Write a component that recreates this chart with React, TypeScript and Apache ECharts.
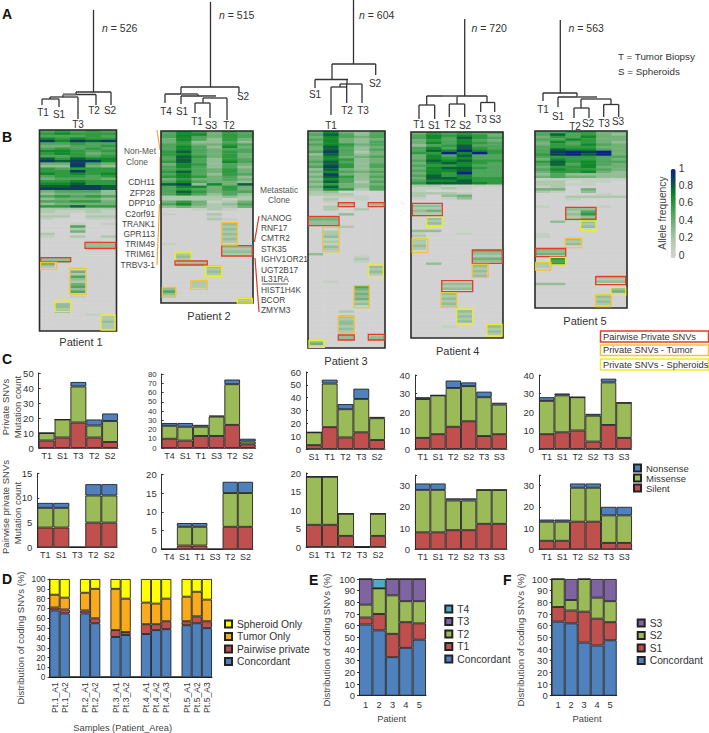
import React, { useEffect, useRef } from "react";
import * as echarts from "echarts";

const FONT = "Liberation Sans";
const SILENT = "#c0504d", MISSENSE = "#9bbb59", NONSENSE = "#4f81bd";
const BLUE = "#4f81bd", RED = "#c0504d", GREEN = "#9bbb59", PURPLE = "#8064a2", TEAL = "#4bacc6", ORANGE = "#f9ab1c", YELLOW = "#ffff00";
const HEAT_COLORS = ["#d2d2d2", "#c4cfc4", "#aec8ae", "#93bd95", "#72b078", "#4fa55c", "#2f9a3f", "#12892a", "#0b5f3c", "#0b3d60", "#0c1f8c"];

// ---- panel C values
const catsP1 = ["T1", "S1", "T3", "T2", "S2"];
const catsP2 = ["T4", "S1", "T1", "S3", "T2", "S2"];
const catsP3 = ["S1", "T1", "T2", "T3", "S2"];
const catsP4 = ["T1", "S1", "T2", "S2", "T3", "S3"];
const catsP5 = ["T1", "S1", "T2", "S2", "T3", "S3"];

const privSilentP1 = [5, 7, 17, 7, 4];
const privMissP1 = [5, 12, 24, 8, 14];
const privNonP1 = [0, 0, 3, 4, 5];
const privSilentP2 = [10, 8, 13, 13, 25, 4];
const privMissP2 = [14, 15, 10, 21, 44, 3];
const privNonP2 = [3, 4, 2, 1, 5, 3];
const privSilentP3 = [3, 17, 9, 13, 7];
const privMissP3 = [10, 34, 22, 26, 17];
const privNonP3 = [0, 3, 4, 8, 1];
const privSilentP4 = [6, 8, 12, 15, 7, 8];
const privMissP4 = [21, 21, 21, 19, 21, 16];
const privNonP4 = [1, 0, 4, 2, 3, 1];
const privSilentP5 = [8, 9, 10, 4, 13, 6];
const privMissP5 = [18, 20, 18, 14, 23, 19];
const privNonP5 = [2, 1, 0, 1, 2, 0];

const pairSilentP1 = [4, 4, 0, 5, 5];
const pairMissP1 = [4, 4, 0, 5.5, 5.5];
const pairNonP1 = [1, 1, 0, 2.3, 2.3];
const pairSilentP2 = [0, 1, 1, 0, 6, 6];
const pairMissP2 = [0, 5, 5, 0, 9, 9];
const pairNonP2 = [0, 1, 1, 0, 3, 3];
const pairSilentP3 = [6, 6, 3, 0, 3];
const pairMissP3 = [13, 13, 6, 0, 6];
const pairNonP3 = [0, 0, 0, 0, 0];
const pairSilentP4 = [8, 8, 9, 9, 12, 12];
const pairMissP4 = [20, 20, 14, 14, 16, 16];
const pairNonP4 = [3, 3, 1, 1, 0, 0];
const pairSilentP5 = [4, 4, 13, 13, 3, 3];
const pairMissP5 = [9, 9, 16, 16, 13, 13];
const pairNonP5 = [1, 1, 2, 2, 4, 4];

// ---- panel D values
const samplesD = ["Pt.1_A1", "Pt.1_A2", "", "Pt.2_A1", "Pt.2_A2", "", "Pt.3_A1", "Pt.3_A2", "", "Pt.4_A1", "Pt.4_A2", "Pt.4_A3", "", "Pt.5_A1", "Pt.5_A2", "Pt.5_A3"];
const concordantD = [68, 65, 0, 65, 55, 0, 41, 43, 0, 44, 48, 49, 0, 53, 55, 50];
const pairwiseD = [3, 4, 0, 3, 5, 0, 7, 3, 0, 10, 6, 8, 0, 4, 7, 7];
const tumorD = [13, 12, 0, 18, 30, 0, 42, 34, 0, 22, 21, 23, 0, 25, 25, 22];
const spheroidD = [16, 19, 0, 14, 10, 0, 10, 20, 0, 24, 25, 20, 0, 18, 13, 21];

// ---- panels E and F values
const patients = ["1", "2", "3", "4", "5"];
const concordantE = [61, 56, 33, 41, 48];
const t1E = [6, 14, 20, 22, 14];
const t2E = [11, 22, 33, 18, 19];
const t3E = [22, 0, 14, 19, 19];
const t4E = [0, 8, 0, 0, 0];
const concordantF = [63.5, 62, 45.5, 43, 47.5];
const s1F = [12.5, 11, 26.5, 23, 15.5];
const s2F = [24, 9, 28, 18, 18];
const s3F = [0, 18, 0, 16, 19];

// ---- panel B rows: one character per sample, tenths of allele frequency (a = 1)
const heatTopP1 = ["56565","67666","55565","76766","97989","55655","44556","56565","77656","67645","55656","86877","98997","44954","33943","65666","66966","76767","56656","45554","66766","77866","88998","99998","45553","34443","56565","34443","55664","34444","66866"];
const heatSparseP1 = ["31:22222","32:21121","33:11011","34:22022","35:10011","37:00101","38:00500","39:00200","40:00400","41:20000","42:10202","44:00010","45:00033","46:00033","47:00022","51:33000","52:33000","53:40000","54:20000","56:00400","57:00200","58:00500","59:00300","60:00200","61:00400","62:00500","63:00300","64:00500","66:00100","69:03000","70:03000","71:02000","72:03000","73:00010","74:00002","75:00002","76:00003","77:00002","78:00002","79:00002"];
const heatTopP2 = ["576465","577465","575465","475364","463353","564465","575374","575455","685465","675464","586464","585365","685375","476354","575353","565464","685464","575365","676453","464454","575443","893748","577464","565464","586455","575353"];
const heatSparseP2 = ["26:222232","27:222212","28:464124","29:574235","30:343224","31:001210","32:000000","33:100200","34:000100","35:000210","37:000030","38:000020","39:000030","40:000020","41:000030","42:000020","43:000030","44:000020","45:100000","46:000033","47:000022","48:000033","49:020022","50:030000","51:020000","52:022000","53:033000","54:000300","55:000200","56:000300","57:000200","60:002000","61:002000","62:002000","63:300000","64:500000","65:300000","66:200000","67:000002","68:000002"];
const heatTopP3 = ["474352","585352","475452","574342","474351","576452","485342","485352","595241","385342","474452","476342","585341","486352","596351","384342","475452","394341","486352","375341","485250","364340","484350","376250"];
const heatSparseP3 = ["24:230000","25:222000","26:011100","27:020100","28:010000","29:00303","30:02000","31:02020","33:00300","34:33000","35:44000","36:33000","37:33000","38:00200","40:02000","41:02000","42:03000","43:01000","44:02000","45:01000","46:03000","47:02000","49:30000","50:00010","51:00020","52:00010","54:00003","55:00002","56:00003","57:00002","60:01000","62:00050","63:00040","64:00030","65:00040","66:00030","67:00040","68:00020","69:00030","72:00200","74:00300","75:00200","76:00300","77:00300","78:00200","79:00300","80:00200","82:00303","83:00303","84:30000","85:40000"];
const heatTopP4 = ["465655","576764","575865","465754","475765","356855","575865","587a76","66a7a6","475855","476755","587866","478765","566755","478865","577855","476a55","586755","488766","577866","688876"];
const heatSparseP4 = ["21:221111","22:112100","23:100000","24:222100","25:203400","26:101300","29:330000","30:220000","31:340000","32:220000","33:110000","34:030000","35:020000","36:030000","39:330000","40:100100","41:200000","43:200000","44:200000","45:300000","46:200000","47:000044","48:000033","49:000022","50:000044","51:000033","52:030000","53:000030","54:000020","55:000030","56:000020","57:000030","60:003300","61:002200","62:003300","64:003000","65:002000","66:003000","67:002000","68:003000","69:002000","71:000300","72:000200","73:000300","74:000200","75:000300","77:001003","78:000002","79:000003","80:000002"];
const heatTopP5 = ["556644","585643","465744","557644","475643","465754","566644","587754","59a9a4","69a8a4","566655","476654","686755","585754","466744","576654","466743","353333","454433"];
const heatSparseP5 = ["19:111111","20:220110","21:221100","22:120000","23:440400","24:210300","25:000010","26:002222","27:001000","30:100010","31:003300","32:002500","33:003600","34:002300","35:002400","36:030300","37:000200","38:000300","41:100000","42:100000","43:003000","44:002000","45:003000","47:440000","48:330000","49:440000","51:060000","52:050000","53:260000","54:200000","58:000033","59:000022","60:000033","61:330000","63:000003","64:000004","66:000030","67:000020","68:000030","69:000020"];

function buildRows(total: number, top: string[], sparse: string[], cols: number): number[][] {
  const rows: number[][] = [];
  for (let r = 0; r < total; r++) rows.push(new Array(cols).fill(0));
  top.forEach((s, r) => {
    for (let c = 0; c < cols; c++) rows[r][c] = parseInt(s[c], 36) / 10;
  });
  sparse.forEach((entry) => {
    const [idx, s] = entry.split(":");
    for (let c = 0; c < cols; c++) rows[+idx][c] = parseInt(s[c] || "0", 36) / 10;
  });
  const cells: number[][] = [];
  rows.forEach((row, r) => row.forEach((v, c) => cells.push([c, r, v])));
  return cells;
}

// layout ----------------------------------------------------------------
const heatPanels = [
  { x: 39.5, y: 130, w: 77, h: 201, rows: 80, cols: 5, top: heatTopP1, sparse: heatSparseP1 },
  { x: 161, y: 131, w: 92, h: 172, rows: 69, cols: 6, top: heatTopP2, sparse: heatSparseP2 },
  { x: 308, y: 131, w: 77, h: 217, rows: 87, cols: 5, top: heatTopP3, sparse: heatSparseP3 },
  { x: 411, y: 132, w: 92, h: 206, rows: 82, cols: 6, top: heatTopP4, sparse: heatSparseP4 },
  { x: 535, y: 131, w: 92, h: 177, rows: 71, cols: 6, top: heatTopP5, sparse: heatSparseP5 },
];

const barPanels = [
  { l: 38.7, r: 118, t: 373, b: 448, max: 50, step: 10, size: 9.5, cats: catsP1, s: privSilentP1, m: privMissP1, n: privNonP1 },
  { l: 161.7, r: 255.7, t: 374, b: 448, max: 80, step: 10, size: 7.8, cats: catsP2, s: privSilentP2, m: privMissP2, n: privNonP2 },
  { l: 306, r: 385, t: 372, b: 449, max: 60, step: 10, size: 9.5, cats: catsP3, s: privSilentP3, m: privMissP3, n: privNonP3 },
  { l: 415, r: 507, t: 375, b: 449, max: 40, step: 10, size: 9.5, cats: catsP4, s: privSilentP4, m: privMissP4, n: privNonP4 },
  { l: 539, r: 631.7, t: 375, b: 449, max: 40, step: 10, size: 9.5, cats: catsP5, s: privSilentP5, m: privMissP5, n: privNonP5 },
  { l: 37.3, r: 117.3, t: 473.3, b: 547.3, max: 15, step: 5, size: 9.5, cats: catsP1, s: pairSilentP1, m: pairMissP1, n: pairNonP1 },
  { l: 161.7, r: 253, t: 474.3, b: 549.3, max: 20, step: 5, size: 9.5, cats: catsP2, s: pairSilentP2, m: pairMissP2, n: pairNonP2 },
  { l: 306, r: 386, t: 473, b: 547, max: 20, step: 5, size: 9.5, cats: catsP3, s: pairSilentP3, m: pairMissP3, n: pairNonP3 },
  { l: 415, r: 507, t: 475, b: 549.3, max: 35, step: 10, size: 9.5, cats: catsP4, s: pairSilentP4, m: pairMissP4, n: pairNonP4 },
  { l: 539, r: 632, t: 475, b: 549.3, max: 35, step: 10, size: 9.5, cats: catsP5, s: pairSilentP5, m: pairMissP5, n: pairNonP5 },
];

// dendrogram segments: [x1, y1, x2, y2]
const treeLines: number[][] = [
  // patient 1
  [93.5, 10, 93.5, 92], [76, 92, 111, 92], [111, 92, 111, 105], [76, 92, 76, 94.5], [63, 94.5, 96, 94.5], [96, 94.5, 96, 105], [63, 94.5, 63, 97], [50, 97, 78, 97], [78, 97, 78, 119], [50, 97, 50, 99], [42, 99, 59, 99], [42, 99, 42, 105], [59, 99, 59, 107],
  // patient 2
  [210.5, 2, 210.5, 87], [181, 87, 239, 87], [239, 87, 239, 93], [181, 87, 181, 94], [165, 94, 198, 94], [165, 94, 165, 103], [198, 94, 198, 96], [181, 96, 216, 96], [181, 96, 181, 104], [203, 98, 227, 98], [227, 98, 227, 120], [203, 98, 203, 103], [195, 103, 210, 103], [195, 103, 195, 113], [210, 103, 210, 118],
  // patient 3
  [353.5, 0, 353.5, 64], [332, 64, 375.7, 64], [375.7, 64, 375.7, 75], [332, 64, 332, 79.5], [315, 79.5, 348, 79.5], [315, 79.5, 315, 88], [347, 79.5, 347, 84], [340, 84, 362, 84], [362, 84, 362, 103], [346.7, 84, 346.7, 103], [340, 84, 340, 87], [331, 87, 347, 87], [331, 87, 331, 115],
  // patient 4
  [464.7, 19, 464.7, 96], [426.7, 96, 487, 96], [426.7, 96, 426.7, 105], [419, 105, 434.7, 105], [419, 105, 419, 119], [434.7, 105, 434.7, 119], [457, 96, 457, 104], [449.3, 104, 464.7, 104], [449.3, 104, 449.3, 117], [464.7, 104, 464.7, 117], [487, 96, 487, 102.5], [480.7, 102.5, 494.7, 102.5], [480.7, 102.5, 480.7, 112], [494.7, 102.5, 494.7, 112],
  // patient 5
  [560.3, 20, 560.3, 93], [543, 93, 577, 93], [543, 93, 543, 101], [577, 93, 577, 97], [558, 97, 597, 97], [558, 97, 558, 107], [581, 99, 611, 99], [581, 99, 581, 108], [574, 108, 589, 108], [574, 108, 574, 118], [589, 108, 589, 118], [611, 99, 611, 104.5], [603.7, 104.5, 618.7, 104.5], [603.7, 104.5, 603.7, 117], [618.7, 104.5, 618.7, 117],
];
const treeThick: number[][] = [[63, 94.5, 76, 94.5], [181, 94, 198, 94], [203, 97, 216, 97], [442.7, 96, 457, 96], [577, 97, 597, 97]];

const RED_BOX = "#e43d25", ORANGE_BOX = "#f4c338", YELLOW_BOX = "#ecec2c";
// [x0, y0, x1, y1, colour]
const boxes: [number, number, number, number, string][] = [
  [85, 242.3, 115.7, 248.3, RED_BOX], [40.7, 257.7, 70.7, 261.7, RED_BOX], [40.7, 262.3, 56.7, 269.3, ORANGE_BOX], [70, 268.3, 86, 294.3, ORANGE_BOX], [55, 301, 70.7, 311.7, YELLOW_BOX], [101, 315, 115, 330, YELLOW_BOX],
  [221.7, 245.7, 252.3, 256, RED_BOX], [221.7, 222.7, 237.3, 245, ORANGE_BOX], [175, 252.7, 191, 261, YELLOW_BOX], [175, 261, 207.3, 265, RED_BOX], [205, 266.3, 221.7, 276.7, YELLOW_BOX], [190.7, 280.7, 207.3, 289.3, ORANGE_BOX], [162.3, 287.3, 175.7, 297.3, ORANGE_BOX], [237.3, 298.3, 252.3, 303, YELLOW_BOX],
  [338.3, 202.7, 354.3, 206.7, RED_BOX], [368.3, 202.7, 384.3, 206.7, RED_BOX], [308.3, 216.7, 339, 225.7, RED_BOX], [322.7, 227.3, 339, 251.7, ORANGE_BOX], [368.3, 265, 383.3, 277.7, YELLOW_BOX], [354, 285.7, 369.3, 307.7, ORANGE_BOX], [338.3, 316.7, 354.3, 333.3, ORANGE_BOX], [338.3, 335, 354.3, 340, RED_BOX], [368.3, 334.3, 384.3, 340, RED_BOX], [309, 340.7, 324.3, 347.3, YELLOW_BOX],
  [412.3, 203.3, 442.3, 215.7, RED_BOX], [426.7, 217.3, 442.7, 226.7, YELLOW_BOX], [412.3, 239, 427.7, 252.7, ORANGE_BOX], [472.3, 250, 502.3, 263.3, RED_BOX], [472.3, 264.3, 488.3, 277.3, ORANGE_BOX], [441.7, 280.7, 472.7, 291.7, RED_BOX], [441, 292.7, 456.7, 307.3, ORANGE_BOX], [456.7, 309, 472.7, 324, YELLOW_BOX], [486.7, 324.3, 502, 336, YELLOW_BOX],
  [565.7, 207.3, 596, 219.3, RED_BOX], [580.7, 221, 596, 230.7, YELLOW_BOX], [565.3, 238.3, 581.7, 247.7, ORANGE_BOX], [535.7, 248.3, 565.7, 256.7, RED_BOX], [550, 257.3, 565.7, 265, YELLOW_BOX], [535.7, 262.7, 551, 270, ORANGE_BOX], [595.7, 276.7, 625.7, 284.7, RED_BOX], [610.7, 287.7, 625.7, 295.3, YELLOW_BOX], [595.7, 295, 611, 306.7, ORANGE_BOX],
];

type Lbl = [string, number, number, number?, string?, string?];
// text, x, y, size, align, colour
const GENE = 8.4;
const labels: Lbl[] = [
  ["A", 2, 14, 14], ["B", 2, 137, 14], ["C", 2, 359, 14], ["D", 2, 579, 14], ["E", 309, 580, 14], ["F", 503, 580, 14],
  ["T1", 43, 112, 10, "center"], ["S1", 59, 114, 10, "center"], ["T3", 78, 124, 10, "center"], ["T2", 94, 110, 10, "center"], ["S2", 110, 110, 10, "center"],
  ["T4", 166, 111, 10, "center"], ["S1", 182, 111, 10, "center"], ["T1", 197, 121, 10, "center"], ["S3", 211, 125, 10, "center"], ["T2", 229, 125, 10, "center"], ["S2", 243, 96, 10, "center"],
  ["S1", 315, 94, 10, "center"], ["T1", 331, 125, 10, "center"], ["T2", 347, 110, 10, "center"], ["T3", 363, 110, 10, "center"], ["S2", 375, 83, 10, "center"],
  ["T1", 419, 124.5, 10, "center"], ["S1", 434, 125, 10, "center"], ["T2", 450, 124, 10, "center"], ["S2", 465, 125, 10, "center"], ["T3", 481, 119, 10, "center"], ["S3", 495, 119, 10, "center"],
  ["T1", 543, 109, 10, "center"], ["S1", 558, 116, 10, "center"], ["T2", 575, 126, 10, "center"], ["S2", 588, 123, 10, "center"], ["T3", 604, 123, 10, "center"], ["S3", 618, 121, 10, "center"],
  ["T = Tumor Biopsy", 618, 56, 9.8], ["S = Spheroids", 618, 71, 9.8],
  ["Patient 1", 81, 342, 11, "center"], ["Patient 2", 209, 316, 11, "center"], ["Patient 3", 346, 361, 11, "center"], ["Patient 4", 457.7, 351, 11, "center"], ["Patient 5", 585, 321, 11, "center"],
  ["Non-Met", 140, 151, GENE, "center", "#555"], ["Clone", 137, 162, GENE, "center", "#555"], ["Metastatic", 279, 190, GENE, "center", "#555"], ["Clone", 279, 200, GENE, "center", "#555"],
  ["CDH11", 155, 182, GENE, "right", "#444"], ["ZFP28", 155, 193, GENE, "right", "#444"], ["DPP10", 155, 203, GENE, "right", "#444"], ["C2orf91", 155, 214, GENE, "right", "#444"], ["TRANK1", 155, 224, GENE, "right", "#444"], ["GPR113", 155, 234, GENE, "right", "#444"], ["TRIM49", 155, 244, GENE, "right", "#444"], ["TRIM61", 155, 254, GENE, "right", "#444"], ["TRBV3-1", 155, 265, GENE, "right", "#444"],
  ["NANOG", 261, 218, GENE, "left", "#444"], ["RNF17", 261, 228, GENE, "left", "#444"], ["CMTR2", 261, 238, GENE, "left", "#444"], ["STK35", 261, 249, GENE, "left", "#444"], ["IGHV1OR21", 261, 259, GENE, "left", "#444"], ["UGT2B17", 261, 269.5, GENE, "left", "#444"], ["IL31RA", 261, 279, GENE, "left", "#444"], ["HIST1H4K", 261, 290, GENE, "left", "#444"], ["BCOR", 261, 300, GENE, "left", "#444"], ["ZMYM3", 261, 310, GENE, "left", "#444"],
  ["Pairwise Private SNVs", 603, 336.5, 9.3], ["Private SNVs - Tumor", 603, 350, 9.3], ["Private SNVs - Spheroids", 603, 364.5, 9.3],
  ["Samples (Patient_Area)", 122.7, 728, 9.3, "center", "#444"], ["Patient", 391.7, 719, 9.3, "center", "#444"], ["Patient", 587, 719, 9.3, "center", "#444"],
];
// text, x, y(centre), size
const rotated: [string, number, number, number][] = [
  ["Private SNVs", 5, 407, 9.5], ["Mutation count", 17, 407, 9.5],
  ["Pairwise private SNVs", 5, 507, 9.5], ["Mutation count", 17, 513, 9.5],
  ["Distribution of coding SNVs (%)", 20, 638, 9.5], ["Distribution of coding SNVs (%)", 326.7, 640, 9.5], ["Distribution of coding SNVs (%)", 520.7, 640, 9.5],
  ["Allele frequency", 662, 213, 10.3],
];
const nLabels: [string, number, number][] = [["526", 102, 28], ["515", 219, 15], ["604", 359, 15], ["720", 471.5, 28], ["563", 568.5, 28]];

function buildOption() {
  const grid: any[] = [], xAxis: any[] = [], yAxis: any[] = [], series: any[] = [], legend: any[] = [];
  const graphic: any[] = [];

  // heatmaps
  heatPanels.forEach((p, i) => {
    grid.push({ left: p.x, top: p.y, width: p.w, height: p.h });
    xAxis.push({ type: "category", gridIndex: i, show: false, data: Array.from({ length: p.cols }, (_, k) => String(k)) });
    yAxis.push({ type: "category", gridIndex: i, show: false, inverse: true, data: Array.from({ length: p.rows }, (_, k) => String(k)) });
    series.push({ type: "heatmap", name: "Patient " + (i + 1), xAxisIndex: i, yAxisIndex: i, data: buildRows(p.rows, p.top, p.sparse, p.cols), silent: true, progressive: 0, emphasis: { disabled: true } });
    graphic.push({ type: "rect", z: 20, shape: { x: p.x, y: p.y, width: p.w, height: p.h }, style: { fill: "none", stroke: "#2b2b2b", lineWidth: 1.6 } });
  });

  const addStack = (gi: number, names: string[], colours: string[], values: number[][], stackId: string) => {
    names.forEach((name, k) => {
      series.push({
        type: "bar", name, stack: stackId, xAxisIndex: gi, yAxisIndex: gi, data: values[k], barGap: 0, barCategoryGap: 0,
        itemStyle: { color: colours[k], borderColor: "#222", borderWidth: 0.9 }, silent: true,
      });
    });
  };

  // panel C
  barPanels.forEach((p, i) => {
    const gi = grid.length;
    grid.push({ left: p.l, top: p.t, width: p.r - p.l, height: p.b - p.t });
    xAxis.push({
      type: "category", gridIndex: gi, data: p.cats, axisTick: { show: false }, axisLine: { lineStyle: { color: "#555", width: 1 } },
      axisLabel: { interval: 0, margin: 3, fontSize: 9, color: "#333", fontFamily: FONT },
    });
    const keep = p.step;
    yAxis.push({
      type: "value", gridIndex: gi, min: 0, max: p.max, interval: p.step, splitLine: { show: false },
      axisLine: { show: true, lineStyle: { color: "#333", width: 1 } }, axisTick: { show: true, inside: true, length: 2, lineStyle: { color: "#333" } },
      axisLabel: { fontSize: p.size, color: "#333", margin: 5, fontFamily: FONT, formatter: (v: number) => (v % keep === 0 ? String(v) : "") },
    });
    addStack(gi, ["Silent", "Missense", "Nonsense"], [SILENT, MISSENSE, NONSENSE], [p.s, p.m, p.n], "c" + i);
  });

  const pctAxis = (gi: number, size: number) => ({
    type: "value", gridIndex: gi, min: 0, max: 100, interval: 10, splitLine: { show: false },
    axisLine: { show: true, lineStyle: { color: "#333" } }, axisTick: { show: true, length: 2, lineStyle: { color: "#333" } },
    axisLabel: { fontSize: size, color: "#333", margin: 4, fontFamily: FONT },
  });

  // panel D
  let gi = grid.length;
  grid.push({ left: 49.5, top: 579, width: 162.5, height: 98.3 });
  xAxis.push({
    type: "category", gridIndex: gi, data: samplesD, axisTick: { show: false }, axisLine: { lineStyle: { color: "#222" } },
    axisLabel: { interval: 0, rotate: 90, fontSize: 8.6, color: "#333", margin: 5, fontFamily: FONT },
  });
  yAxis.push(pctAxis(gi, 8.4));
  addStack(gi, ["Concordant", "Pairwise private", "Tumor Only", "Spheroid Only"], [BLUE, RED, ORANGE, YELLOW], [concordantD, pairwiseD, tumorD, spheroidD], "d");

  // panel E
  gi = grid.length;
  grid.push({ left: 359, top: 579, width: 67, height: 116.7 });
  xAxis.push({
    type: "category", gridIndex: gi, data: patients, axisTick: { show: false }, axisLine: { lineStyle: { color: "#222" } },
    axisLabel: { interval: 0, fontSize: 9.3, color: "#333", margin: 5, fontFamily: FONT },
  });
  yAxis.push(pctAxis(gi, 9.5));
  addStack(gi, ["Concordant", "T1", "T2", "T3", "T4"], [BLUE, RED, GREEN, PURPLE, TEAL], [concordantE, t1E, t2E, t3E, t4E], "e");

  // panel F
  gi = grid.length;
  grid.push({ left: 551.7, top: 579, width: 65, height: 116.7 });
  xAxis.push({
    type: "category", gridIndex: gi, data: patients, axisTick: { show: false }, axisLine: { lineStyle: { color: "#222" } },
    axisLabel: { interval: 0, fontSize: 9.3, color: "#333", margin: 5, fontFamily: FONT },
  });
  yAxis.push(pctAxis(gi, 9.5));
  addStack(gi, ["Concordant", "S1", "S2", "S3"], [BLUE, RED, GREEN, PURPLE], [concordantF, s1F, s2F, s3F], "f");

  // colour-bar axis
  gi = grid.length;
  grid.push({ left: 675.7, top: 168, width: 1, height: 87 });
  xAxis.push({ type: "value", gridIndex: gi, show: false, min: 0, max: 1 });
  yAxis.push({
    type: "value", gridIndex: gi, min: 0, max: 1, interval: 0.2, position: "right", splitLine: { show: false },
    axisLine: { show: false }, axisTick: { show: false },
    axisLabel: { fontSize: 10.3, color: "#333", margin: 2, fontFamily: FONT },
  });

  const mkLegend = (data: string[], left: number, top: number, gap: number, size: number) => ({
    data, left, top, orient: "vertical", padding: 0, itemGap: gap, itemWidth: 7, itemHeight: 7, selectedMode: false, icon: "rect",
    textStyle: { fontSize: size, color: "#333", fontFamily: FONT },
  });
  legend.push(mkLegend(["Nonsense", "Missense", "Silent"], 633, 463, 0, 9.5));
  legend.push(mkLegend(["Spheroid Only", "Tumor Only", "Pairwise private", "Concordant"], 224, 619, 2.5, 10.3));
  legend.push(mkLegend(["T4", "T3", "T2", "T1", "Concordant"], 444.3, 604, 2.5, 10.3));
  legend.push(mkLegend(["S3", "S2", "S1", "Concordant"], 636.7, 618, 2.5, 10.3));

  // dendrograms
  treeLines.forEach(([x1, y1, x2, y2]) => graphic.push({ type: "line", shape: { x1, y1, x2, y2 }, style: { stroke: "#333", lineWidth: 1.3 } }));
  treeThick.forEach(([x1, y1, x2, y2]) => graphic.push({ type: "line", shape: { x1, y1, x2, y2 }, style: { stroke: "#777", lineWidth: 2 } }));

  // annotation boxes
  boxes.forEach(([x0, y0, x1, y1, c]) => graphic.push({ type: "rect", z: 21, shape: { x: x0, y: y0, width: x1 - x0, height: y1 - y0 }, style: { fill: "none", stroke: c, lineWidth: 1.3 } }));
  ([[600.5, 331, 108, 11, RED_BOX], [600.5, 345, 108, 10.5, ORANGE_BOX], [600.5, 359, 108, 11, YELLOW_BOX]] as [number, number, number, number, string][]).forEach(([x, y, width, height, c]) =>
    graphic.push({ type: "rect", shape: { x, y, width, height }, style: { fill: "#fff", stroke: c, lineWidth: 1.5 } }));

  // brackets
  const bracketO = "#f2a93f", bracketR = "#e0342a";
  ([[157, 130, 160, 150], [160, 157, 160, 201], [159.5, 204, 157, 265]] as number[][]).forEach(([x1, y1, x2, y2]) => graphic.push({ type: "line", shape: { x1, y1, x2, y2 }, style: { stroke: bracketO, lineWidth: 1.2 } }));
  ([[259, 216, 254.5, 242], [255, 258, 259, 312]] as number[][]).forEach(([x1, y1, x2, y2]) => graphic.push({ type: "line", shape: { x1, y1, x2, y2 }, style: { stroke: bracketR, lineWidth: 1.2 } }));
  graphic.push({ type: "line", shape: { x1: 262, y1: 284, x2: 288, y2: 284 }, style: { stroke: "#333", lineWidth: 0.8 } });

  // text
  labels.forEach(([text, x, y, size, align, colour]) => {
    const panelLetter = text.length === 1 && size === 14;
    graphic.push({
      type: "text", x, y, z: 30,
      style: { text, fontSize: size || 10, fontFamily: FONT, fontWeight: panelLetter ? "bold" : "normal", fill: panelLetter ? "#111" : colour || "#333", textAlign: align || "left", textVerticalAlign: "middle" },
    });
  });
  rotated.forEach(([text, x, y, size]) => {
    graphic.push({
      type: "text", x, y, rotation: Math.PI / 2, z: 30,
      style: { text, fontSize: size, fontFamily: FONT, fill: "#444", textAlign: "center", textVerticalAlign: "middle" },
    });
  });
  nLabels.forEach(([v, x, y]) => {
    graphic.push({
      type: "text", x, y, z: 30,
      style: { text: "{i|n} = " + v, fontSize: 10.5, fontFamily: FONT, fill: "#333", textVerticalAlign: "middle", rich: { i: { fontStyle: "italic", fontSize: 10.5, fontFamily: FONT, fill: "#333" } } },
    });
  });

  return {
    animation: false,
    backgroundColor: "#fff",
    textStyle: { fontFamily: FONT },
    grid, xAxis, yAxis, series, legend,
    visualMap: {
      type: "continuous", min: 0, max: 1, seriesIndex: [0, 1, 2, 3, 4], left: 670.7, top: 169, itemWidth: 5, itemHeight: 89, padding: 0,
      calculable: false, realtime: false, inRange: { color: HEAT_COLORS }, textStyle: { color: "#333" }, text: ["", ""], hoverLink: false,
    },
    graphic: { elements: graphic },
  };
}

export default function App() {
  const ref = useRef<HTMLDivElement>(null);
  useEffect(() => {
    document.body.style.margin = "0";
    const chart = echarts.init(ref.current!, undefined, { renderer: "svg" });
    chart.setOption(buildOption() as any);
    return () => chart.dispose();
  }, []);
  return <div ref={ref} style={{ width: 709, height: 733 }} />;
}
